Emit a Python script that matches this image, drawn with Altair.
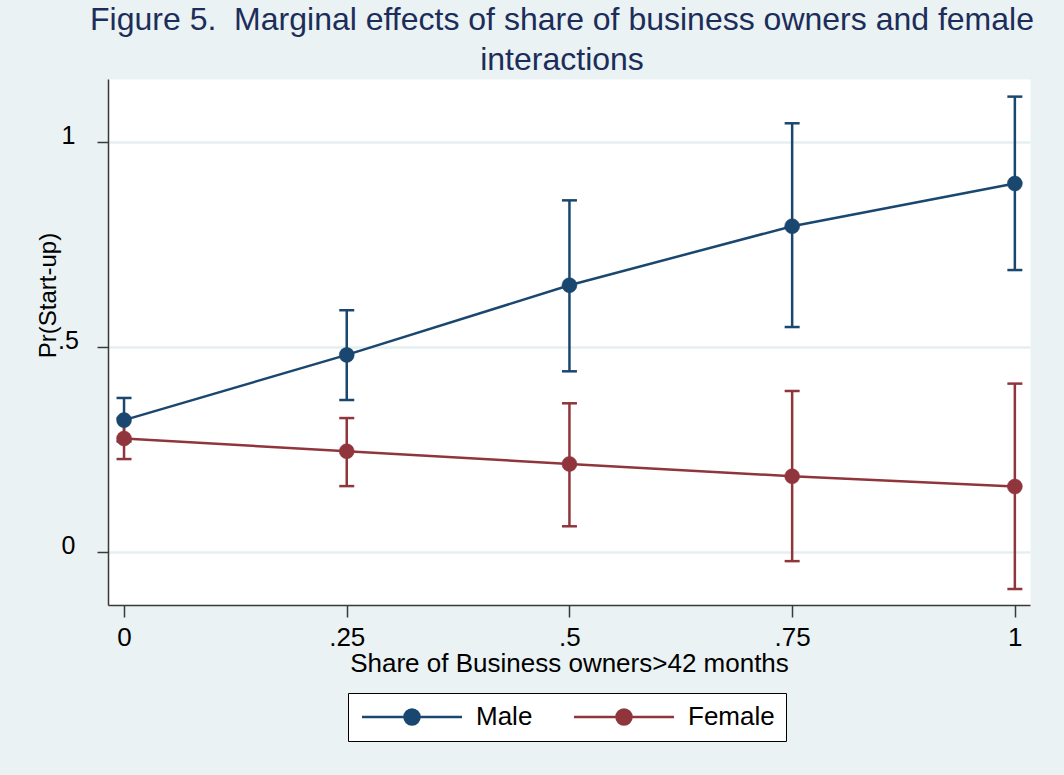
import altair as alt
import pandas as pd

# ---- data ----
x_vals = [0, 0.25, 0.5, 0.75, 1]
male_est = [0.322, 0.481, 0.651, 0.795, 0.899]
male_lo = [0.270, 0.371, 0.441, 0.549, 0.688]
male_hi = [0.376, 0.590, 0.858, 1.046, 1.111]
female_est = [0.277, 0.246, 0.215, 0.185, 0.160]
female_lo = [0.227, 0.161, 0.063, -0.022, -0.090]
female_hi = [0.327, 0.327, 0.363, 0.393, 0.411]
series = ["Male", "Female"]
colors = ["#1a476f", "#90353b"]
x_ticks = [0, 0.25, 0.5, 0.75, 1]
x_tick_labels = ["0", ".25", ".5", ".75", "1"]
y_ticks = [0, 0.5, 1]
y_tick_labels = ["0", ".5", "1"]

rows = []
for s, est, lo, hi in zip(series, [male_est, female_est], [male_lo, female_lo], [male_hi, female_hi]):
    for i, xv in enumerate(x_vals):
        rows.append({"series": s, "x": xv, "est": est[i], "lo": lo[i], "hi": hi[i]})
df = pd.DataFrame(rows)


def label_expr(values, labels):
    expr = "''"
    for v, l in reversed(list(zip(values, labels))):
        expr = f"abs(datum.value - {v}) < 1e-9 ? '{l}' : ({expr})"
    return expr


FONT = "Liberation Sans"
AXIS_COLOR = "#3a3a3a"
LW = 2.5

x_enc = alt.X(
    "x:Q",
    scale=alt.Scale(domain=[-0.018, 1.017], nice=False, zero=False),
    axis=alt.Axis(
        values=x_ticks,
        labelExpr=label_expr(x_ticks, x_tick_labels),
        title="Share of Business owners>42 months",
        grid=False,
        tickSize=12,
        tickWidth=1.5,
        tickColor=AXIS_COLOR,
        domainColor=AXIS_COLOR,
        domainWidth=1.5,
        labelPadding=7,
        labelFontSize=26,
        labelFont=FONT,
        labelColor="black",
        labelFlush=False,
        titleFont=FONT,
        titleFontSize=26,
        titleFontWeight="normal",
        titleColor="black",
        titlePadding=0,
    ),
)

y_scale = alt.Scale(domain=[-0.129, 1.154], nice=False, zero=False)
y_axis = alt.Axis(
    values=y_ticks,
    labelExpr=label_expr(y_ticks, y_tick_labels),
    title="Pr(Start-up)",
    grid=True,
    gridColor="#e6eff0",
    gridWidth=2.5,
    tickSize=11,
    tickWidth=1.5,
    tickColor=AXIS_COLOR,
    domainColor=AXIS_COLOR,
    domainWidth=1.5,
    labelPadding=29,
    labelAlign="center",
    labelBaseline="middle",
    labelOffset=-7,
    labelFontSize=25,
    labelFont=FONT,
    labelColor="black",
    titleFont=FONT,
    titleFontSize=24,
    titleFontWeight="normal",
    titleColor="black",
    titleAngle=270,
    titleAlign="center",
    titleBaseline="bottom",
    titleX=-48,
    titleY=216,
)

legend = alt.Legend(
    title=None,
    orient="none",
    legendX=240,
    legendY=614,
    direction="horizontal",
    fillColor="white",
    strokeColor="black",
    padding=11,
    columnPadding=36,
    symbolType="M-5,0L5,0M-0.75,0A0.75,0.75,0,1,1,0.75,0A0.75,0.75,0,1,1,-0.75,0Z",
    symbolSize=400,
    symbolOffset=40,
    symbolStrokeWidth=LW,
    symbolOpacity=1,
    labelFontSize=26,
    labelFont=FONT,
    labelColor="black",
    labelOffset=51,
)

cscale = alt.Scale(domain=series, range=colors)
stroke = alt.Stroke("series:N", scale=cscale, legend=legend)
fill = alt.Fill("series:N", scale=cscale, legend=legend)

base = alt.Chart(df)

rules = base.mark_rule(strokeWidth=LW).encode(
    x=x_enc, y=alt.Y("lo:Q", scale=y_scale, axis=y_axis), y2="hi:Q", stroke=stroke
)
caps_lo = base.mark_tick(orient="horizontal", size=15, thickness=LW, opacity=1).encode(
    x=x_enc, y=alt.Y("lo:Q", scale=y_scale, axis=y_axis), fill=fill
)
caps_hi = base.mark_tick(orient="horizontal", size=15, thickness=LW, opacity=1).encode(
    x=x_enc, y=alt.Y("hi:Q", scale=y_scale, axis=y_axis), fill=fill
)
line = base.mark_line(strokeWidth=LW).encode(
    x=x_enc, y=alt.Y("est:Q", scale=y_scale, axis=y_axis), stroke=stroke, order="x:Q"
)
points = base.mark_point(filled=True, size=225, opacity=1, strokeWidth=0.5).encode(
    x=x_enc, y=alt.Y("est:Q", scale=y_scale, axis=y_axis), fill=fill, stroke=stroke
)

chart = (
    alt.layer(rules, caps_lo, caps_hi, line, points)
    .properties(
        width=922,
        height=526,
        padding={"left": 108, "top": 79, "right": 34, "bottom": 170},
        autosize=alt.AutoSizeParams(type="none"),
        background="#eaf2f3",
        title=alt.TitleParams(
            text=["Figure 5.\u00a0 Marginal effects of share of business owners and female", "interactions"],
            fontSize=32,
            font=FONT,
            fontWeight="normal",
            color="#1c2d5a",
            lineHeight=40,
            baseline="bottom",
            offset=3,
            anchor="middle",
            dx=-7,
            dy=33,
        ),
    )
    .configure_view(fill="white", stroke="transparent")
)

chart.save("out.html", embed_options={"renderer": "svg", "actions": False})
